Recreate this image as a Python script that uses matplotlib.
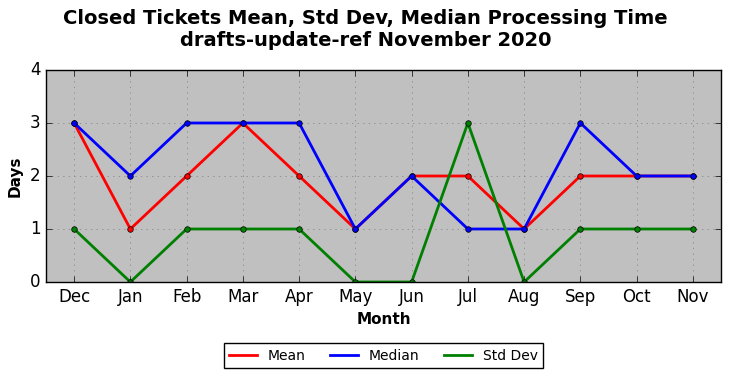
import matplotlib
matplotlib.use('Agg')
import matplotlib.pyplot as plt

plt.style.use('classic')

months = ['Dec', 'Jan', 'Feb', 'Mar', 'Apr', 'May', 'Jun', 'Jul', 'Aug', 'Sep', 'Oct', 'Nov']
mean_days = [3, 1, 2, 3, 2, 1, 2, 2, 1, 2, 2, 2]
median_days = [3, 2, 3, 3, 3, 1, 2, 1, 1, 3, 2, 2]
std_days = [1, 0, 1, 1, 1, 0, 0, 3, 0, 1, 1, 1]

fig = plt.figure(figsize=(7.31, 3.78), dpi=100)
ax = fig.add_axes([46 / 731, 1 - 282 / 378, 675 / 731, 212 / 378])
ax.set_facecolor('silver')
ax.set_axisbelow(True)

x = range(len(months))
ax.plot(x, mean_days, color='red', lw=2, marker='o', ms=4, mec='k', label='Mean')
ax.plot(x, median_days, color='blue', lw=2, marker='o', ms=4, mec='k', label='Median')
ax.plot(x, std_days, color='green', lw=2, marker='o', ms=4, mec='k', label='Std Dev')

ax.set_xlim(-0.5, len(months) - 0.5)
ax.set_ylim(0, 4)
ax.set_yticks([0, 1, 2, 3, 4])
ax.set_xticks(list(x))
ax.set_xticklabels(months)
ax.tick_params(labelsize=12)
ax.grid(True, color='gray', linestyle=':')

ax.set_xlabel('Month', fontsize=11, fontweight='bold')
ax.set_ylabel('Days', fontsize=11, fontweight='bold')
fig.suptitle('Closed Tickets Mean, Std Dev, Median Processing Time\ndrafts-update-ref November 2020',
             fontsize=14, fontweight='bold', y=0.975)

ax.legend(loc='upper center', bbox_to_anchor=(0.5, -0.255), ncol=3, fontsize=10,
          frameon=True, fancybox=False, numpoints=1, markerscale=0,
          handlelength=2, columnspacing=1.75)

fig.savefig('out.png', dpi=100)
